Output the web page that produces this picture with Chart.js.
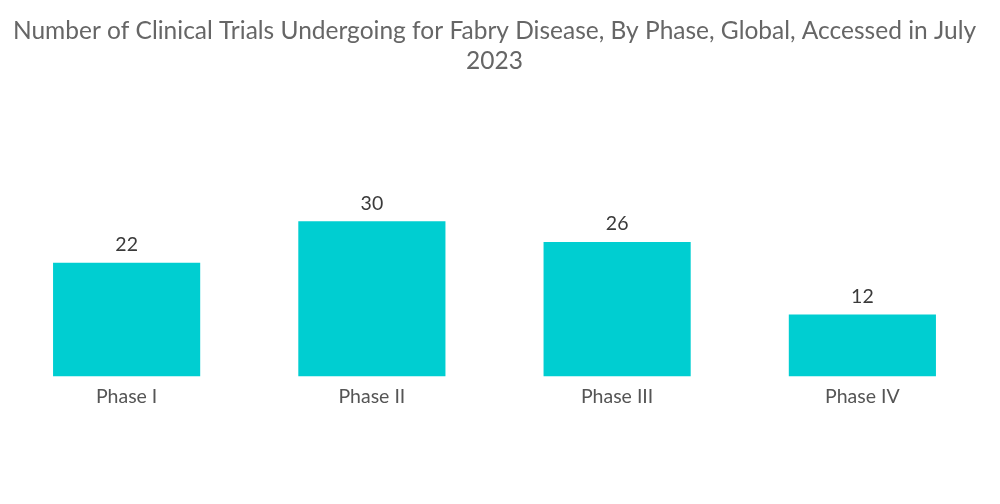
<!DOCTYPE html>
<html>
<head>
<meta charset="utf-8">
<script src="https://cdn.jsdelivr.net/npm/chart.js@4/dist/chart.umd.min.js"></script>
<style>
  html, body { margin: 0; padding: 0; background: #fff; }
  #wrap { width: 1000px; height: 504px; }
</style>
</head>
<body>
<div id="wrap"><canvas id="grafico"></canvas></div>
<script>
// Data
const fases = ['Phase I', 'Phase II', 'Phase III', 'Phase IV'];
const ensaios = [22, 30, 26, 12];

// Value labels above bars
const rotulos = {
  id: 'rotulos',
  afterDatasetsDraw(chart) {
    const ctx = chart.ctx;
    const meta = chart.getDatasetMeta(0);
    ctx.save();
    ctx.font = '19.5px Lato';
    ctx.fillStyle = '#3a3a3a';
    ctx.textAlign = 'center';
    ctx.textBaseline = 'bottom';
    meta.data.forEach((bar, i) => {
      ctx.fillText(ensaios[i], bar.x, bar.y - 8);
    });
    ctx.restore();
  }
};

const ctx = document.getElementById('grafico').getContext('2d');
const chart = new Chart(ctx, {
  type: 'bar',
  data: {
    labels: fases,
    datasets: [{
      data: ensaios,
      backgroundColor: '#00CED1',
      categoryPercentage: 0.6,
      barPercentage: 1.0
    }]
  },
  options: {
    responsive: true,
    maintainAspectRatio: false,
    animation: false,
    layout: { padding: { left: 4, right: 15, bottom: 96 } },
    plugins: {
      legend: { display: false },
      tooltip: { enabled: false },
      title: {
        display: true,
        text: ['Number of Clinical Trials Undergoing for Fabry Disease, By Phase, Global, Accessed in July', '2023'],
        color: '#666666',
        font: { family: 'Lato', size: 24.5, weight: 'normal', lineHeight: 1.22 },
        padding: { top: 16, bottom: 45 }
      }
    },
    scales: {
      x: {
        grid: { display: false },
        border: { display: false },
        ticks: { color: '#555555', font: { family: 'Lato', size: 19.5 }, padding: 0 }
      },
      y: {
        display: false,
        min: 0,
        max: 49.4
      }
    }
  },
  plugins: [rotulos]
});
</script>
</body>
</html>
